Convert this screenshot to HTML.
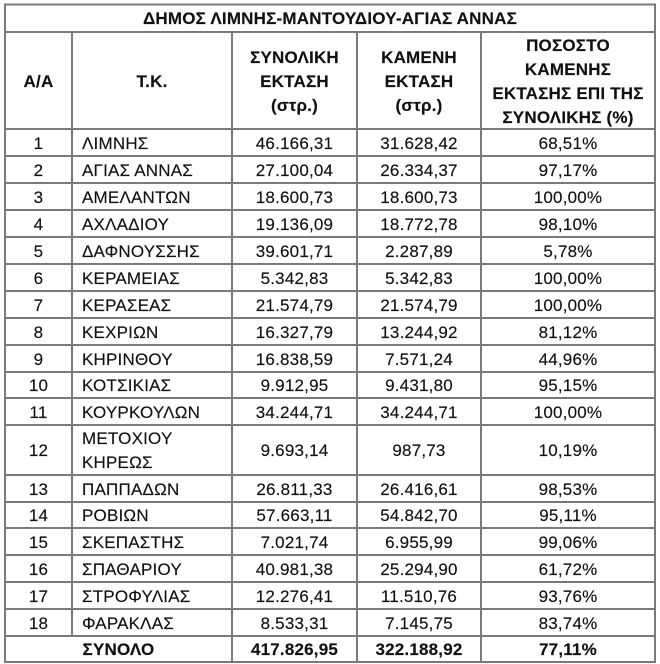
<!DOCTYPE html>
<html>
<head>
<meta charset="utf-8">
<style>
  html, body { margin:0; padding:0; background:#fff; }
  body { width:660px; height:664px; position:relative; overflow:hidden;
         font-family:"Liberation Sans", "DejaVu Sans", sans-serif; color:#111;
         font-size:17px; letter-spacing:0.2px; -webkit-text-stroke:0.15px #111; }
  .c { position:absolute; display:flex; align-items:center; justify-content:center;
       text-align:center; line-height:24px; box-sizing:border-box; padding-top:2px; }
  .l { justify-content:flex-start; text-align:left; padding-left:10px; }
  .b { font-weight:bold; }
  svg { position:absolute; left:0; top:0; }
</style>
</head>
<body>
<svg width="660" height="664" viewBox="0 0 660 664">
  <g stroke="#7a7a7a" stroke-width="2" fill="none" shape-rendering="crispEdges">
    <rect x="5" y="4.5" width="650" height="657.5"/>
    <line x1="5" y1="32" x2="655" y2="32"/>
    <line x1="5" y1="129" x2="655" y2="129"/>
    <line x1="5" y1="156" x2="655" y2="156"/>
    <line x1="5" y1="183" x2="655" y2="183"/>
    <line x1="5" y1="210" x2="655" y2="210"/>
    <line x1="5" y1="237" x2="655" y2="237"/>
    <line x1="5" y1="264" x2="655" y2="264"/>
    <line x1="5" y1="291" x2="655" y2="291"/>
    <line x1="5" y1="318" x2="655" y2="318"/>
    <line x1="5" y1="345" x2="655" y2="345"/>
    <line x1="5" y1="372" x2="655" y2="372"/>
    <line x1="5" y1="398" x2="655" y2="398"/>
    <line x1="5" y1="425" x2="655" y2="425"/>
    <line x1="5" y1="475" x2="655" y2="475"/>
    <line x1="5" y1="502" x2="655" y2="502"/>
    <line x1="5" y1="528" x2="655" y2="528"/>
    <line x1="5" y1="555" x2="655" y2="555"/>
    <line x1="5" y1="582" x2="655" y2="582"/>
    <line x1="5" y1="609" x2="655" y2="609"/>
    <line x1="5" y1="636" x2="655" y2="636"/>
    <line x1="72" y1="32" x2="72" y2="636"/>
    <line x1="232" y1="32" x2="232" y2="662"/>
    <line x1="357" y1="32" x2="357" y2="662"/>
    <line x1="481" y1="32" x2="481" y2="662"/>
  </g>
</svg>

<div class="c b" style="left:5px;top:4px;width:650px;height:28px;">ΔΗΜΟΣ ΛΙΜΝΗΣ-ΜΑΝΤΟΥΔΙΟΥ-ΑΓΙΑΣ ΑΝΝΑΣ</div>

<div class="c b" style="left:5px;top:32px;width:67px;height:97px;">Α/Α</div>
<div class="c b" style="left:72px;top:32px;width:160px;height:97px;">Τ.Κ.</div>
<div class="c b" style="left:232px;top:32px;width:125px;height:97px;">ΣΥΝΟΛΙΚΗ<br>ΕΚΤΑΣΗ<br>(στρ.)</div>
<div class="c b" style="left:357px;top:32px;width:124px;height:97px;">ΚΑΜΕΝΗ<br>ΕΚΤΑΣΗ<br>(στρ.)</div>
<div class="c b" style="left:481px;top:32px;width:174px;height:97px;">ΠΟΣΟΣΤΟ<br>ΚΑΜΕΝΗΣ<br>ΕΚΤΑΣΗΣ ΕΠΙ ΤΗΣ<br>ΣΥΝΟΛΙΚΗΣ (%)</div>

<div class="c" style="left:5px;top:129px;width:67px;height:27px;">1</div>
<div class="c l" style="left:72px;top:129px;width:160px;height:27px;">ΛΙΜΝΗΣ</div>
<div class="c" style="left:232px;top:129px;width:125px;height:27px;">46.166,31</div>
<div class="c" style="left:357px;top:129px;width:124px;height:27px;">31.628,42</div>
<div class="c" style="left:481px;top:129px;width:174px;height:27px;">68,51%</div>

<div class="c" style="left:5px;top:156px;width:67px;height:27px;">2</div>
<div class="c l" style="left:72px;top:156px;width:160px;height:27px;">ΑΓΙΑΣ ΑΝΝΑΣ</div>
<div class="c" style="left:232px;top:156px;width:125px;height:27px;">27.100,04</div>
<div class="c" style="left:357px;top:156px;width:124px;height:27px;">26.334,37</div>
<div class="c" style="left:481px;top:156px;width:174px;height:27px;">97,17%</div>

<div class="c" style="left:5px;top:183px;width:67px;height:27px;">3</div>
<div class="c l" style="left:72px;top:183px;width:160px;height:27px;">ΑΜΕΛΑΝΤΩΝ</div>
<div class="c" style="left:232px;top:183px;width:125px;height:27px;">18.600,73</div>
<div class="c" style="left:357px;top:183px;width:124px;height:27px;">18.600,73</div>
<div class="c" style="left:481px;top:183px;width:174px;height:27px;">100,00%</div>

<div class="c" style="left:5px;top:210px;width:67px;height:27px;">4</div>
<div class="c l" style="left:72px;top:210px;width:160px;height:27px;">ΑΧΛΑΔΙΟΥ</div>
<div class="c" style="left:232px;top:210px;width:125px;height:27px;">19.136,09</div>
<div class="c" style="left:357px;top:210px;width:124px;height:27px;">18.772,78</div>
<div class="c" style="left:481px;top:210px;width:174px;height:27px;">98,10%</div>

<div class="c" style="left:5px;top:237px;width:67px;height:27px;">5</div>
<div class="c l" style="left:72px;top:237px;width:160px;height:27px;">ΔΑΦΝΟΥΣΣΗΣ</div>
<div class="c" style="left:232px;top:237px;width:125px;height:27px;">39.601,71</div>
<div class="c" style="left:357px;top:237px;width:124px;height:27px;">2.287,89</div>
<div class="c" style="left:481px;top:237px;width:174px;height:27px;">5,78%</div>

<div class="c" style="left:5px;top:264px;width:67px;height:27px;">6</div>
<div class="c l" style="left:72px;top:264px;width:160px;height:27px;">ΚΕΡΑΜΕΙΑΣ</div>
<div class="c" style="left:232px;top:264px;width:125px;height:27px;">5.342,83</div>
<div class="c" style="left:357px;top:264px;width:124px;height:27px;">5.342,83</div>
<div class="c" style="left:481px;top:264px;width:174px;height:27px;">100,00%</div>

<div class="c" style="left:5px;top:291px;width:67px;height:27px;">7</div>
<div class="c l" style="left:72px;top:291px;width:160px;height:27px;">ΚΕΡΑΣΕΑΣ</div>
<div class="c" style="left:232px;top:291px;width:125px;height:27px;">21.574,79</div>
<div class="c" style="left:357px;top:291px;width:124px;height:27px;">21.574,79</div>
<div class="c" style="left:481px;top:291px;width:174px;height:27px;">100,00%</div>

<div class="c" style="left:5px;top:318px;width:67px;height:27px;">8</div>
<div class="c l" style="left:72px;top:318px;width:160px;height:27px;">ΚΕΧΡΙΩΝ</div>
<div class="c" style="left:232px;top:318px;width:125px;height:27px;">16.327,79</div>
<div class="c" style="left:357px;top:318px;width:124px;height:27px;">13.244,92</div>
<div class="c" style="left:481px;top:318px;width:174px;height:27px;">81,12%</div>

<div class="c" style="left:5px;top:345px;width:67px;height:27px;">9</div>
<div class="c l" style="left:72px;top:345px;width:160px;height:27px;">ΚΗΡΙΝΘΟΥ</div>
<div class="c" style="left:232px;top:345px;width:125px;height:27px;">16.838,59</div>
<div class="c" style="left:357px;top:345px;width:124px;height:27px;">7.571,24</div>
<div class="c" style="left:481px;top:345px;width:174px;height:27px;">44,96%</div>

<div class="c" style="left:5px;top:372px;width:67px;height:26px;">10</div>
<div class="c l" style="left:72px;top:372px;width:160px;height:26px;">ΚΟΤΣΙΚΙΑΣ</div>
<div class="c" style="left:232px;top:372px;width:125px;height:26px;">9.912,95</div>
<div class="c" style="left:357px;top:372px;width:124px;height:26px;">9.431,80</div>
<div class="c" style="left:481px;top:372px;width:174px;height:26px;">95,15%</div>

<div class="c" style="left:5px;top:398px;width:67px;height:27px;">11</div>
<div class="c l" style="left:72px;top:398px;width:160px;height:27px;">ΚΟΥΡΚΟΥΛΩΝ</div>
<div class="c" style="left:232px;top:398px;width:125px;height:27px;">34.244,71</div>
<div class="c" style="left:357px;top:398px;width:124px;height:27px;">34.244,71</div>
<div class="c" style="left:481px;top:398px;width:174px;height:27px;">100,00%</div>

<div class="c" style="left:5px;top:425px;width:67px;height:50px;">12</div>
<div class="c l" style="left:72px;top:425px;width:160px;height:50px;">ΜΕΤΟΧΙΟΥ<br>ΚΗΡΕΩΣ</div>
<div class="c" style="left:232px;top:425px;width:125px;height:50px;">9.693,14</div>
<div class="c" style="left:357px;top:425px;width:124px;height:50px;">987,73</div>
<div class="c" style="left:481px;top:425px;width:174px;height:50px;">10,19%</div>

<div class="c" style="left:5px;top:475px;width:67px;height:27px;">13</div>
<div class="c l" style="left:72px;top:475px;width:160px;height:27px;">ΠΑΠΠΑΔΩΝ</div>
<div class="c" style="left:232px;top:475px;width:125px;height:27px;">26.811,33</div>
<div class="c" style="left:357px;top:475px;width:124px;height:27px;">26.416,61</div>
<div class="c" style="left:481px;top:475px;width:174px;height:27px;">98,53%</div>

<div class="c" style="left:5px;top:502px;width:67px;height:26px;">14</div>
<div class="c l" style="left:72px;top:502px;width:160px;height:26px;">ΡΟΒΙΩΝ</div>
<div class="c" style="left:232px;top:502px;width:125px;height:26px;">57.663,11</div>
<div class="c" style="left:357px;top:502px;width:124px;height:26px;">54.842,70</div>
<div class="c" style="left:481px;top:502px;width:174px;height:26px;">95,11%</div>

<div class="c" style="left:5px;top:528px;width:67px;height:27px;">15</div>
<div class="c l" style="left:72px;top:528px;width:160px;height:27px;">ΣΚΕΠΑΣΤΗΣ</div>
<div class="c" style="left:232px;top:528px;width:125px;height:27px;">7.021,74</div>
<div class="c" style="left:357px;top:528px;width:124px;height:27px;">6.955,99</div>
<div class="c" style="left:481px;top:528px;width:174px;height:27px;">99,06%</div>

<div class="c" style="left:5px;top:555px;width:67px;height:27px;">16</div>
<div class="c l" style="left:72px;top:555px;width:160px;height:27px;">ΣΠΑΘΑΡΙΟΥ</div>
<div class="c" style="left:232px;top:555px;width:125px;height:27px;">40.981,38</div>
<div class="c" style="left:357px;top:555px;width:124px;height:27px;">25.294,90</div>
<div class="c" style="left:481px;top:555px;width:174px;height:27px;">61,72%</div>

<div class="c" style="left:5px;top:582px;width:67px;height:27px;">17</div>
<div class="c l" style="left:72px;top:582px;width:160px;height:27px;">ΣΤΡΟΦΥΛΙΑΣ</div>
<div class="c" style="left:232px;top:582px;width:125px;height:27px;">12.276,41</div>
<div class="c" style="left:357px;top:582px;width:124px;height:27px;">11.510,76</div>
<div class="c" style="left:481px;top:582px;width:174px;height:27px;">93,76%</div>

<div class="c" style="left:5px;top:609px;width:67px;height:27px;">18</div>
<div class="c l" style="left:72px;top:609px;width:160px;height:27px;">ΦΑΡΑΚΛΑΣ</div>
<div class="c" style="left:232px;top:609px;width:125px;height:27px;">8.533,31</div>
<div class="c" style="left:357px;top:609px;width:124px;height:27px;">7.145,75</div>
<div class="c" style="left:481px;top:609px;width:174px;height:27px;">83,74%</div>

<div class="c b" style="left:5px;top:636px;width:227px;height:26px;">ΣΥΝΟΛΟ</div>
<div class="c b" style="left:232px;top:636px;width:125px;height:26px;">417.826,95</div>
<div class="c b" style="left:357px;top:636px;width:124px;height:26px;">322.188,92</div>
<div class="c b" style="left:481px;top:636px;width:174px;height:26px;">77,11%</div>
</body>
</html>
